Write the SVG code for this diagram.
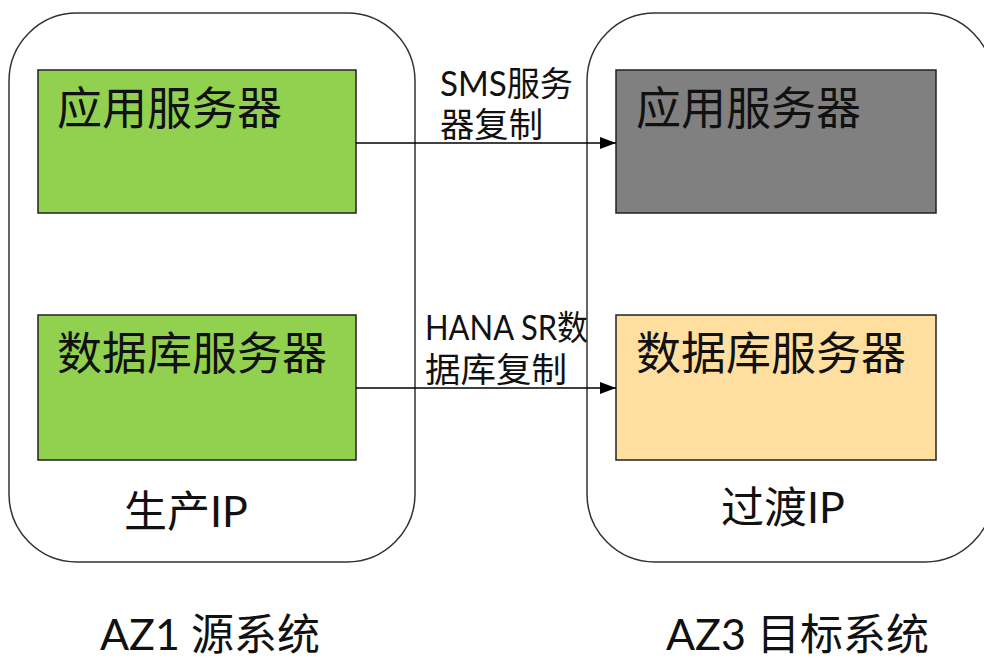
<svg xmlns="http://www.w3.org/2000/svg" width="984" height="660" viewBox="0 0 984 660">
  <defs>
    <marker id="arr" viewBox="0 0 16 12" refX="16" refY="6" markerWidth="16" markerHeight="12" markerUnits="userSpaceOnUse" orient="auto">
      <path d="M0,0 L16,6 L0,12 Z" fill="#000"/>
    </marker>
  </defs>
  <style>
    .zone { fill: #fff; stroke: #333; stroke-width: 1.5; }
    .box { stroke: #222; stroke-width: 1.5; }
    .t { font-family: Lato, "Noto Sans CJK SC", sans-serif; fill: #111; }
    .big { font-size: 45px; }
    .lbl { font-size: 34px; }
    .ip { font-size: 43px; }
    .conn { stroke: #000; stroke-width: 1.5; fill: none; }
  </style>
  <rect width="984" height="660" fill="#fff"/>
  <g id="az1">
    <rect class="zone" x="9" y="13" width="406" height="549" rx="68" ry="68"/>
    <text class="t ip" x="124" y="527">生产IP</text>
  </g>
  <g id="az3">
    <rect class="zone" x="587" y="13" width="406" height="549" rx="68" ry="68"/>
    <text class="t ip" x="721" y="523">过渡IP</text>
  </g>
  <g id="src-app">
    <rect class="box" x="38" y="70" width="318" height="143" fill="#92D050"/>
    <text class="t big" x="57" y="125">应用服务器</text>
  </g>
  <g id="src-db">
    <rect class="box" x="38" y="315" width="318" height="145" fill="#92D050"/>
    <text class="t big" x="57" y="370">数据库服务器</text>
  </g>
  <g id="dst-app">
    <rect class="box" x="616" y="70" width="320" height="143" fill="#808080"/>
    <text class="t big" x="636" y="125">应用服务器</text>
  </g>
  <g id="dst-db">
    <rect class="box" x="616" y="315" width="320" height="145" fill="#FFDF9F"/>
    <text class="t big" x="636" y="370">数据库服务器</text>
  </g>
  <g id="connectors">
    <line class="conn" x1="356" y1="143" x2="616" y2="143" marker-end="url(#arr)"/>
    <line class="conn" x1="356" y1="388" x2="616" y2="388" marker-end="url(#arr)"/>
    <text class="t lbl" x="440" y="96" textLength="133" lengthAdjust="spacingAndGlyphs">SMS服务</text>
    <text class="t lbl" x="440" y="137" textLength="103" lengthAdjust="spacingAndGlyphs">器复制</text>
    <text class="t lbl" x="425" y="340" textLength="163" lengthAdjust="spacingAndGlyphs">HANA SR数</text>
    <text class="t lbl" x="425" y="382" textLength="142" lengthAdjust="spacingAndGlyphs">据库复制</text>
  </g>
  <g id="titles">
    <text class="t ip" x="100" y="650">AZ1 源系统</text>
    <text class="t ip" x="666" y="650">AZ3 目标系统</text>
  </g>
</svg>
